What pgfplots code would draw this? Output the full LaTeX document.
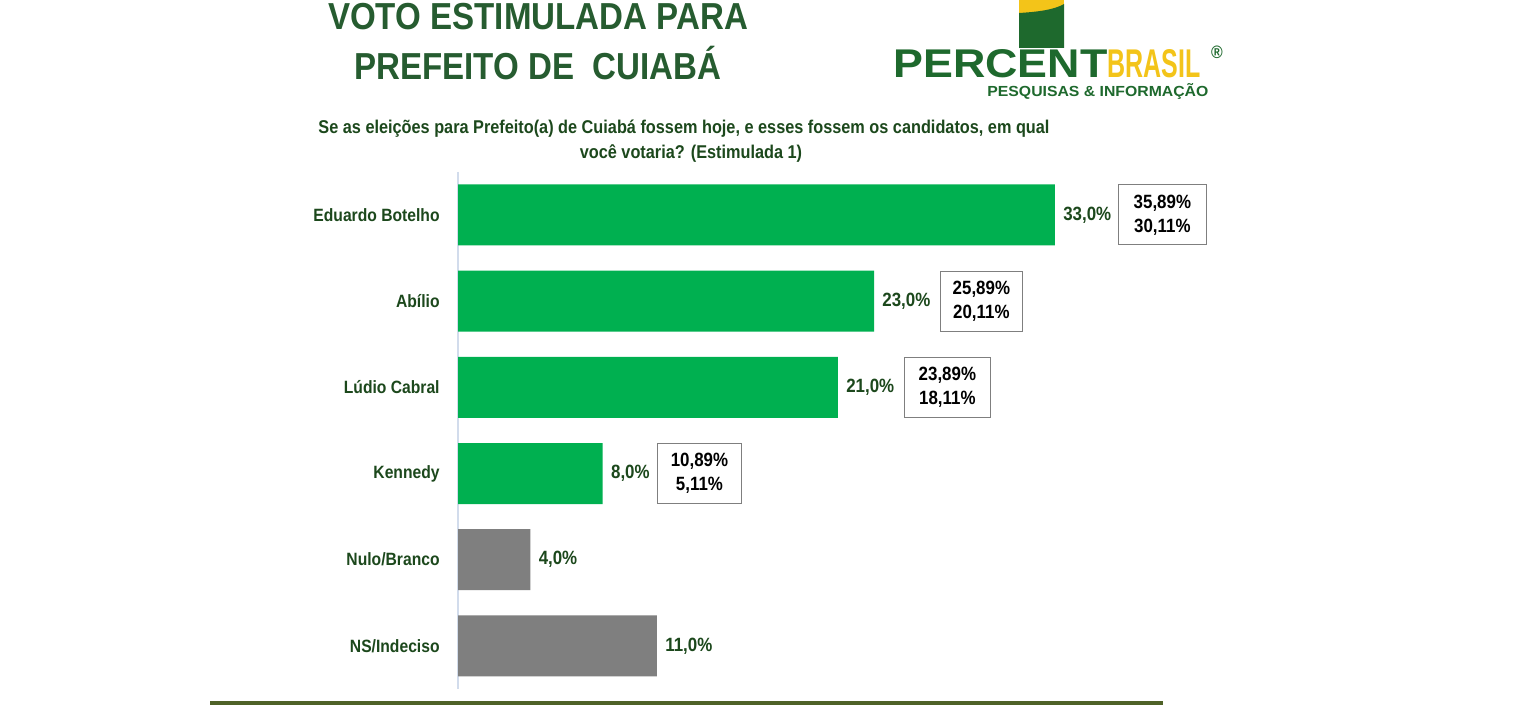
\documentclass[border=0pt]{standalone}
\usepackage{fontspec}
\setmainfont{Liberation Sans}[FakeStretch=0.88]
\usepackage{graphicx}
\usepackage{pgfplots}
\pgfplotsset{compat=1.18}
\definecolor{titlegreen}{RGB}{38,92,48}
\definecolor{labgreen}{RGB}{28,72,28}
\definecolor{bargreen}{RGB}{0,176,80}
\definecolor{bargray}{RGB}{127,127,127}
\definecolor{olive}{RGB}{79,98,40}
\definecolor{logogreen}{RGB}{30,105,45}
\definecolor{logoyellow}{RGB}{243,196,25}
\definecolor{axisblue}{RGB}{210,220,236}
\begin{document}
\begin{tikzpicture}
\path[use as bounding box, fill=white] (0,0) rectangle (768pt,356.5pt);
% title
\node[anchor=base, inner sep=0pt, text=titlegreen, font=\bfseries\fontsize{18.8}{24}\selectfont] at (269pt,341.5pt) {VOTO ESTIMULADA PARA};
\node[anchor=base, inner sep=0pt, text=titlegreen, font=\bfseries\fontsize{18.8}{24}\selectfont] at (269pt,316.5pt) {PREFEITO DE \ CUIABÁ};
% subtitle
\node[anchor=base, inner sep=0pt, text=labgreen, font=\bfseries\fontsize{9.25}{11}\selectfont] at (342pt,289.5pt) {Se as eleições para Prefeito(a) de Cuiabá fossem hoje, e esses fossem os candidatos, em qual};
\node[anchor=base, inner sep=0pt, text=labgreen, font=\bfseries\fontsize{9.25}{11}\selectfont] at (345.5pt,277pt) {você votaria? (Estimulada 1)};
% logo
\fill[logoyellow] (509.5pt,348pt) rectangle (532pt,356.5pt);
\fill[logogreen] (509.5pt,332.5pt) -- (509.5pt,350pt) .. controls (518pt,350.5pt) and (527pt,351.5pt) .. (532pt,354.5pt) -- (532pt,332.5pt) -- cycle;
\node[anchor=south west, inner sep=0pt, text=logogreen] at (446.5pt,317.5pt) {\resizebox{107pt}{14pt}{\bfseries PERCENT}};
\node[anchor=south west, inner sep=0pt, text=logoyellow] at (553.5pt,317.5pt) {\resizebox{46.5pt}{14pt}{\bfseries BRASIL}};
\node[inner sep=0pt, text=logogreen, font=\bfseries\fontsize{9}{10}\selectfont] at (608.5pt,330.5pt) {®};
\node[anchor=south west, inner sep=0pt, text=logogreen] at (493.5pt,306.5pt) {\resizebox{110.5pt}{6.5pt}{\bfseries PESQUISAS \& INFORMAÇÃO}};
% bottom rule
\draw[olive, line width=2pt] (105pt,5pt) -- (581.5pt,5pt);
\begin{axis}[
  at={(229pt,12pt)}, anchor=south west,
  scale only axis, width=407pt, height=258.6pt,
  xmin=0, xmax=45, ymin=-0.5, ymax=5.5,
  y dir=reverse,
  xbar, bar width=30.5pt, bar shift=0pt,
  axis x line=none, axis y line*=left,
  y axis line style={draw=axisblue, line width=0.6pt, -},
  xtick=\empty,
  ytick={0,1,2,3,4,5},
  yticklabels={Eduardo Botelho,Abílio,Lúdio Cabral,Kennedy,Nulo/Branco,NS/Indeciso},
  major tick length=0pt,
  yticklabel style={font=\bfseries\fontsize{8.9}{10}\selectfont, text=labgreen, inner sep=0pt, xshift=-9pt},
  /pgf/number format/assume math mode=true,
  nodes near coords={\pgfmathprintnumber[fixed, fixed zerofill, precision=1, use comma]{\pgfplotspointmeta}\%},
  nodes near coords style={anchor=west, inner sep=0pt, xshift=4pt, text=labgreen, font=\bfseries\fontsize{9.6}{11}\selectfont},
  clip=false,
]
\addplot[draw=none, fill=bargreen] coordinates {(33,0) (23,1) (21,2) (8,3)};
\addplot[draw=none, fill=bargray] coordinates {(4,4) (11,5)};
\tikzset{mybox/.style={draw=bargray, line width=0.5pt, minimum width=44pt, minimum height=30pt, anchor=west, align=center, inner sep=0pt, font=\bfseries\fontsize{9.6}{12}\selectfont}}
\node[mybox] at (axis cs:36.48,0) {35,89\%\\30,11\%};
\node[mybox, minimum width=41pt] at (axis cs:26.64,1) {25,89\%\\20,11\%};
\node[mybox, minimum width=43pt] at (axis cs:24.65,2) {23,89\%\\18,11\%};
\node[mybox, minimum width=42pt] at (axis cs:11.0,3) {10,89\%\\5,11\%};
\end{axis}
\end{tikzpicture}
\end{document}
